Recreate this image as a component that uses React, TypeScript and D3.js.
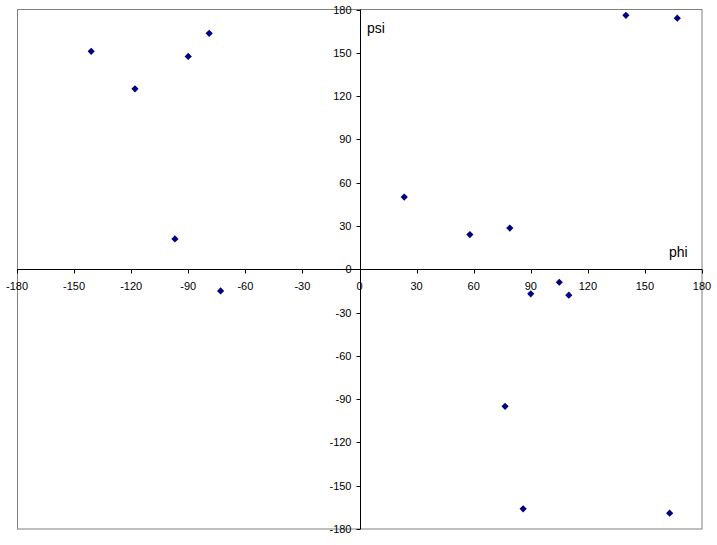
import React from "react";
import * as d3 from "d3";

const phi = [-141, -118, -90, -79, -97, -73, 23.5, 58, 140, 167, 79, 90, 105, 110, 76.5, 86, 163];
const psi = [151, 125, 147.5, 163.5, 21, -15, 50, 24, 176, 174, 28.5, -17, -9, -18, -95, -166, -169];
const xTicks = [-180, -150, -120, -90, -60, -30, 0, 30, 60, 90, 120, 150, 180];
const yTicks = [180, 150, 120, 90, 60, 30, 0, -30, -60, -90, -120, -150, -180];

const W = 717;
const H = 545;
const left = 17, right = 702, top = 9.5, bottom = 529;

const squareDiamond = {
  draw(ctx: any, size: number) {
    const r = Math.sqrt(size / 2);
    ctx.moveTo(0, -r);
    ctx.lineTo(r, 0);
    ctx.lineTo(0, r);
    ctx.lineTo(-r, 0);
    ctx.closePath();
  },
};

export default function App() {
  const x = d3.scaleLinear().domain([-180, 180]).range([left, right]);
  const y = d3.scaleLinear().domain([-180, 180]).range([bottom, top]);
  const x0 = Math.round(x(0)) + 0.5;
  const y0 = Math.round(y(0)) + 0.5;
  const diamond = d3.symbol().type(squareDiamond as any).size(26)();
  const font = "'Liberation Sans', Arial, sans-serif";
  return (
    <svg width={W} height={H} style={{ position: "absolute", left: 0, top: 0, display: "block", background: "#fff" }}>
      <rect x={0} y={0} width={W} height={H} fill="#fff" />
      <rect x={left + 0.5} y={top} width={right - left - 0.5} height={bottom - top} fill="none" stroke="#808080" strokeWidth={1} />
      {xTicks.map((t) => (
        <g key={"x" + t}>
          <line x1={Math.round(x(t)) + 0.5} x2={Math.round(x(t)) + 0.5} y1={y0} y2={y0 + 4} stroke="#000" />
          <text x={x(t)} y={y0 + 20} textAnchor="middle" fontFamily={font} fontSize={11} fill="#000">{t}</text>
        </g>
      ))}
      {yTicks.map((t) => (
        <g key={"y" + t}>
          <line x1={x0 - 4} x2={x0} y1={Math.round(y(t)) + 0.5} y2={Math.round(y(t)) + 0.5} stroke="#000" />
          <text x={x0 - 9} y={y(t) + 4} textAnchor="end" fontFamily={font} fontSize={11} fill="#000">{t}</text>
        </g>
      ))}
      <line x1={left} x2={right} y1={y0} y2={y0} stroke="#000" />
      <line x1={x0} x2={x0} y1={top} y2={bottom} stroke="#000" />
      <text x={367} y={33} fontFamily={font} fontSize={14} fill="#000">psi</text>
      <text x={669} y={257} fontFamily={font} fontSize={14} fill="#000">phi</text>
      {phi.map((p, i) => (
        <path key={i} d={diamond!} transform={`translate(${x(p)},${y(psi[i])})`} fill="#000080" />
      ))}
    </svg>
  );
}
